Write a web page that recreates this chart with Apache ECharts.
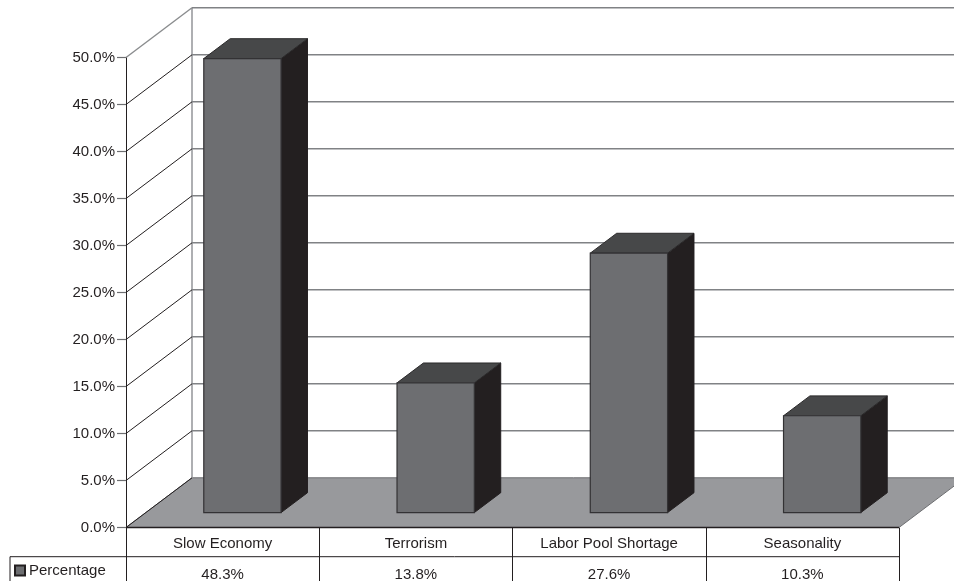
<!DOCTYPE html>
<html>
<head>
<meta charset="utf-8">
<style>html,body{margin:0;padding:0;background:#fff;overflow:hidden}#c{width:954px;height:581px}</style>
<script src="https://cdn.jsdelivr.net/npm/echarts@6/dist/echarts.min.js"></script>
</head>
<body>
<div id="c"></div>
<script>
const categories = ['Slow Economy', 'Terrorism', 'Labor Pool Shortage', 'Seasonality'];
const percentage = [48.3, 13.8, 27.6, 10.3];
const yTicks = [5, 10, 15, 20, 25, 30, 35, 40, 45, 50];

const FONT = '"Liberation Sans", Arial, sans-serif';
const INK = '#231f20';
const DX = 66, DY = 49.7;           // oblique projection of the full floor depth
const FRONT = 0.3, BACK = 0.7;      // bar position within the floor depth
const BAR_SHARE = 0.4;              // bar width as a share of the category band
const ROW = 29.2;                   // data table row height

const chart = echarts.init(document.getElementById('c'), null, { renderer: 'canvas' });

function floorItem(params, api) {
  const a = api.coord([0, 0]);
  const w = api.size([1, 0])[0];
  const x0 = a[0] - w / 2, x1 = x0 + w * categories.length, y = a[1];
  const top = api.coord([0, 50])[1];
  return { type: 'group', children: [
    { type: 'polygon', shape: { points: [[x0, y], [x1, y], [x1 + DX, y - DY], [x0 + DX, y - DY]] },
      style: { fill: '#98999c', stroke: '#6d6e71', lineWidth: 1 } },
    { type: 'line', shape: { x1: x0 + DX, y1: y - DY, x2: x0 + DX, y2: top - DY },
      style: { stroke: '#939598', lineWidth: 1.5 } },
    { type: 'line', shape: { x1: x0, y1: y, x2: x0 + DX, y2: y - DY },
      style: { stroke: INK, lineWidth: 1 } },
    { type: 'line', shape: { x1: x0, y1: y, x2: x1, y2: y },
      style: { stroke: INK, lineWidth: 1.5 } }
  ] };
}

function wallItem(params, api) {
  const v = api.value(1);
  const a = api.coord([0, v]);
  const w = api.size([1, 0])[0];
  const x0 = a[0] - w / 2, x1 = x0 + w * categories.length, y = a[1];
  const isTop = v === yTicks[yTicks.length - 1];
  return { type: 'group', children: [
    { type: 'line', shape: { x1: x0, y1: y, x2: x0 + DX, y2: y - DY },
      style: { stroke: isTop ? '#8a8c8e' : INK, lineWidth: isTop ? 1.4 : 1 } },
    { type: 'line', shape: { x1: x0 + DX, y1: y - DY, x2: x1 + DX, y2: y - DY },
      style: { stroke: '#808285', lineWidth: 1.5 } }
  ] };
}

function barItem(params, api) {
  const i = api.value(0), v = api.value(1);
  const c = api.coord([i, v]);
  const b = api.coord([i, 0]);
  const w = api.size([1, 0])[0] * BAR_SHARE;
  const fx = DX * FRONT, fy = DY * FRONT;
  const ox = DX * (BACK - FRONT), oy = DY * (BACK - FRONT);
  const l = c[0] - w / 2 + fx, r = l + w;
  const t = c[1] - fy, bt = b[1] - fy;
  return { type: 'group', children: [
    { type: 'polygon', shape: { points: [[r, t], [r + ox, t - oy], [r + ox, bt - oy], [r, bt]] },
      style: { fill: INK, stroke: INK, lineWidth: 1 } },
    { type: 'polygon', shape: { points: [[l, t], [r, t], [r + ox, t - oy], [l + ox, t - oy]] },
      style: { fill: '#474849', stroke: '#2b2a2b', lineWidth: 1 } },
    { type: 'rect', shape: { x: l, y: t, width: w, height: bt - t },
      style: { fill: '#6d6e71', stroke: '#333234', lineWidth: 1.2 } }
  ] };
}

function tableItem(params, api) {
  const a = api.coord([0, 0]);
  const w = api.size([1, 0])[0];
  const x0 = a[0] - w / 2, x1 = x0 + w * categories.length, y = a[1] + ROW;
  const H = 581;
  return { type: 'group', children: [
    { type: 'line', shape: { x1: 10, y1: y, x2: x1, y2: y }, style: { stroke: INK, lineWidth: 1 } },
    { type: 'line', shape: { x1: 10, y1: y, x2: 10, y2: H }, style: { stroke: INK, lineWidth: 1 } }
  ] };
}

function valueText(params, api) {
  const i = api.value(0);
  const b = api.coord([i, 0]);
  return { type: 'text', style: {
    x: b[0], y: b[1] + ROW + 18.5, text: api.value(1).toFixed(1) + '%',
    font: '15px ' + FONT, fill: INK, textAlign: 'center', textVerticalAlign: 'middle' } };
}

chart.setOption({
  animation: false,
  backgroundColor: '#fff',
  grid: { left: 126, right: 55, top: 57.5, bottom: 53.5 },
  legend: {
    data: ['Percentage'], left: 14, top: 563, padding: 0, itemWidth: 10, itemHeight: 10, itemGap: 0,
    selectedMode: false,
    icon: 'rect',
    textStyle: { fontFamily: FONT, fontSize: 15, color: INK, padding: [0, 0, 0, -1] }
  },
  xAxis: {
    type: 'category', data: categories,
    axisLine: { show: false },
    axisTick: { show: true, length: 54, lineStyle: { color: INK, width: 1 } },
    axisLabel: { fontFamily: FONT, fontSize: 15, color: INK, margin: 9 },
    splitLine: { show: false }
  },
  yAxis: {
    type: 'value', min: 0, max: 50, interval: 5,
    axisLine: { show: true, lineStyle: { color: INK, width: 1 } },
    axisTick: { show: true, length: 9, lineStyle: { color: '#6d6e71', width: 1.2 } },
    axisLabel: { fontFamily: FONT, fontSize: 15, color: INK, margin: 11,
      formatter: v => v.toFixed(1) + '%' },
    splitLine: { show: false }
  },
  series: [
    { type: 'custom', name: 'floor', z: 1, renderItem: floorItem, data: [[0, 0]], silent: true },
    { type: 'custom', name: 'walls', z: 2, renderItem: wallItem, data: yTicks.map(v => [0, v]), silent: true },
    { type: 'custom', name: 'Percentage', z: 3, renderItem: barItem,
      itemStyle: { color: '#6d6e71', borderColor: INK, borderWidth: 1 },
      data: percentage.map((v, i) => [i, v]) },
    { type: 'custom', name: 'table', z: 4, renderItem: tableItem, data: [[0, 0]], silent: true },
    { type: 'custom', name: 'values', z: 4, renderItem: valueText, data: percentage.map((v, i) => [i, v]), silent: true }
  ]
});
</script>
</body>
</html>
